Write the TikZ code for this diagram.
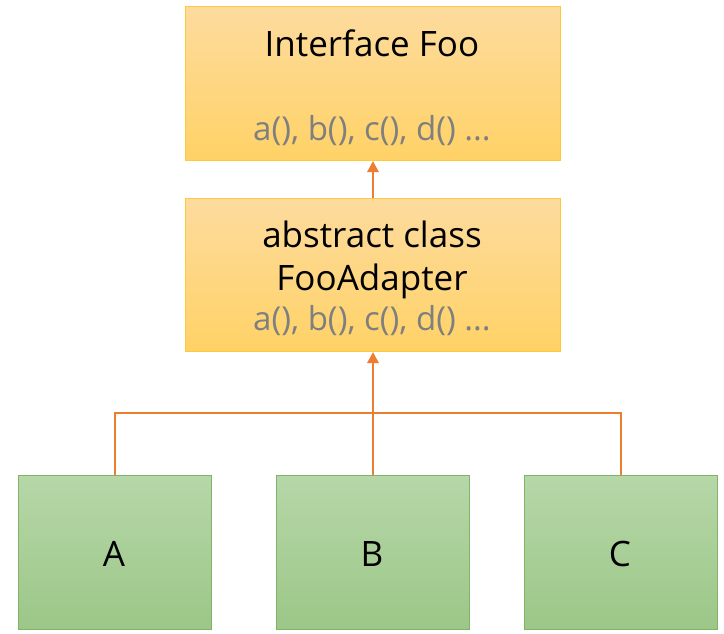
\documentclass[tikz,border=0pt]{standalone}
\usepackage{fontspec}
\setmainfont{Open Sans}
\usetikzlibrary{arrows.meta}
\definecolor{obord}{HTML}{FFC83D}
\definecolor{otop}{HTML}{FDDB9E}
\definecolor{obot}{HTML}{FFD266}
\definecolor{gbord}{HTML}{82B366}
\definecolor{gtop}{HTML}{B6D7A8}
\definecolor{gbot}{HTML}{9CC788}
\definecolor{arr}{HTML}{ED7D31}
\definecolor{meth}{HTML}{7F7F7F}
\tikzset{
  obox/.style={draw=obord, line width=1pt, top color=otop, bottom color=obot, minimum width=375pt, minimum height=154pt, inner sep=0pt, anchor=north west},
  gbox/.style={draw=gbord, line width=1pt, top color=gtop, bottom color=gbot, minimum width=193pt, minimum height=154pt, inner sep=0pt, anchor=north west},
  lbl/.style={font=\fontsize{35}{40}\selectfont, inner sep=0pt, anchor=base},
  mlbl/.style={font=\fontsize{33}{38}\selectfont, inner sep=0pt, anchor=base, text=meth},
  conn/.style={draw=arr, line width=2.8pt},
  tip/.style={-{Triangle[length=11pt,width=11pt]}}
}
\begin{document}
\begin{tikzpicture}[x=1pt,y=-1pt]
\useasboundingbox (0,0) rectangle (724,634);
\node[obox] (foo) at (185,6) {};
\node[obox, minimum height=153pt] (adp) at (185,198) {};
\node[gbox] (a) at (18,475) {};
\node[gbox] (b) at (276,475) {};
\node[gbox] (c) at (524,475) {};
\node[lbl] (t1) at (372,57) {Interface Foo};
\node[mlbl] (m1) at (372,140) {a(), b(), c(), d() ...};
\node[lbl] (t2) at (372,247) {abstract class};
\node[lbl] (t3) at (372,290) {FooAdapter};
\node[mlbl] (m2) at (372,330) {a(), b(), c(), d() ...};
\node[lbl] (la) at (114,566) {A};
\node[lbl] (lb) at (372,566) {B};
\node[lbl] (lc) at (620,566) {C};
\coordinate (j) at (372,413);
\draw[conn, tip] (adp.north) -- (foo.south);
\draw[conn, tip] (b.north) -- (adp.south);
\draw[conn] (a.north) |- (j) -| (c.north);
\end{tikzpicture}
\end{document}
